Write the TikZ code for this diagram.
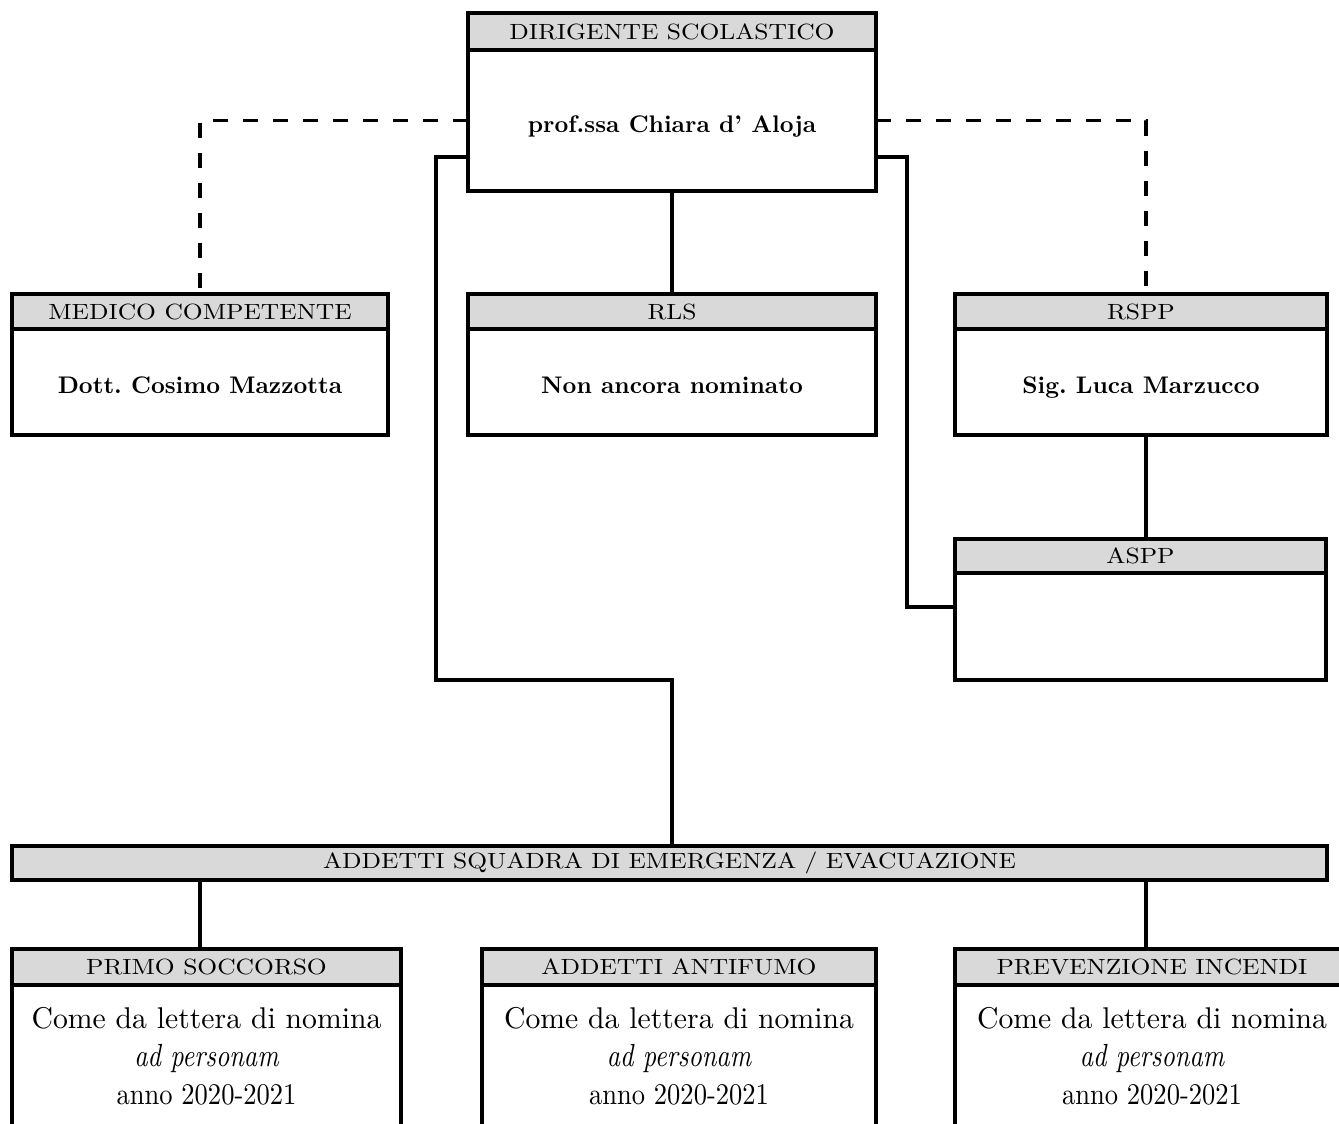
\documentclass[tikz,border=0pt]{standalone}
\usepackage{fontspec}
\setmainfont{lmroman10-regular}[Extension=.otf, BoldFont=lmroman10-bold, ItalicFont=lmroman10-italic]
\newfontfamily\hdrfont{lmroman10-regular}[Extension=.otf, FakeStretch=1.16]
\newfontfamily\namefont{lmroman10-bold}[Extension=.otf, FakeStretch=1.0]
\newfontfamily\comefont{lmroman10-regular}[Extension=.otf, FakeStretch=0.99]
\newfontfamily\annofont{lmroman10-regular}[Extension=.otf, FakeStretch=0.885]
\newfontfamily\adfont{lmroman10-italic}[Extension=.otf, FakeStretch=0.815]
\usetikzlibrary{calc}
\definecolor{hdrgray}{HTML}{D9D9D9}
\frenchspacing
\newcommand{\nominatext}{{\comefont Come da lettera di nomina}\\{\adfont\fontsize{32}{38}\selectfont ad personam}\\{\annofont anno 2020-2021}}
\begin{document}
\begin{tikzpicture}[x=1pt,y=-1pt,
  box/.style={draw, line width=4pt, inner sep=0pt, outer sep=0pt, anchor=north west},
  hdr/.style={box, fill=hdrgray, font=\hdrfont\fontsize{22}{26}\selectfont},
  bodyb/.style={box, fill=white, text height=23pt, text depth=0pt, font=\namefont\fontsize{24}{28}\selectfont},
  bodyo/.style={box, fill=white},
  btext/.style={inner sep=0pt, outer sep=0pt, anchor=north, align=center, font=\fontsize{30}{38}\selectfont},
  conn/.style={line width=3.5pt},
  dconn/.style={line width=3.5pt, dash pattern=on 15pt off 15pt}]
\useasboundingbox (0,0) rectangle (1339,1124);
\clip (0,0) rectangle (1339,1124);
\fill[white] (0,0) rectangle (1339,1124);

% helper coordinates
\coordinate (ly) at (0,157);
\coordinate (ry) at (0,120.5);
\coordinate (rx) at (1146,0);
\coordinate (mx) at (200,0);
\coordinate (lx) at (436,680);
\coordinate (rx2) at (907,607);
\coordinate (ty) at (0,1007);

% DIRIGENTE
\node[hdr, minimum width=408pt, minimum height=37pt] (dirH) at (468,13) {DIRIGENTE SCOLASTICO};
\node[bodyb, minimum width=408pt, minimum height=141pt] (dirB) at (dirH.south west) {prof.ssa Chiara d’ Aloja};

% MEDICO
\node[hdr, minimum width=376pt, minimum height=35pt] (medH) at (12,294) {MEDICO COMPETENTE};
\node[bodyb, minimum width=376pt, minimum height=106pt] (medB) at (medH.south west) {Dott. Cosimo Mazzotta};

% RLS
\node[hdr, minimum width=408pt, minimum height=35pt] (rlsH) at (468,294) {RLS};
\node[bodyb, minimum width=408pt, minimum height=106pt] (rlsB) at (rlsH.south west) {Non ancora nominato};

% RSPP
\node[hdr, minimum width=372pt, minimum height=35pt] (rsppH) at (955,294) {RSPP};
\node[bodyb, minimum width=372pt, minimum height=106pt] (rsppB) at (rsppH.south west) {Sig. Luca Marzucco};

% ASPP
\node[hdr, minimum width=371pt, minimum height=34pt] (asppH) at (955,539) {ASPP};
\node[bodyb, minimum width=371pt, minimum height=107pt] (asppB) at (asppH.south west) {};

% ADDETTI bar
\node[hdr, minimum width=1315pt, minimum height=34pt] (barH) at (12,846) {ADDETTI SQUADRA DI EMERGENZA / EVACUAZIONE};

% bottom boxes (their lower edge lies below the picture)
\node[hdr, minimum width=389pt, minimum height=36pt] (primoH) at (12,949) {PRIMO SOCCORSO};
\node[bodyo, minimum width=389pt, minimum height=200pt] (primoB) at (primoH.south west) {};
\node[btext] (primoT) at (primoB.north |- ty) {\nominatext};

\node[hdr, minimum width=394pt, minimum height=36pt] (antiH) at (482,949) {ADDETTI ANTIFUMO};
\node[bodyo, minimum width=394pt, minimum height=200pt] (antiB) at (antiH.south west) {};
\node[btext] (antiT) at (antiB.north |- ty) {\nominatext};

\node[hdr, minimum width=394pt, minimum height=36pt] (prevH) at (955,949) {PREVENZIONE INCENDI};
\node[bodyo, minimum width=394pt, minimum height=200pt] (prevB) at (prevH.south west) {};
\node[btext] (prevT) at (prevB.north |- ty) {\nominatext};

% dashed connectors
\draw[dconn] (dirB.west |- ry) -| (medH.north -| mx);
\draw[dconn] (dirB.east |- ry) -| (rsppH.north -| rx);

% solid connectors
\draw[conn] (dirB.west |- ly) -| (lx) -| (barH.north -| dirB.south);
\draw[conn] (dirB.east |- ly) -| (rx2) -- (rx2 -| asppB.west);
\draw[conn] (dirB.south) -- (rlsH.north);
\draw[conn] (rsppB.south -| rx) -- (asppH.north -| rx);
\draw[conn] (barH.south -| mx) -- (primoH.north -| mx);
\draw[conn] (barH.south -| rx) -- (prevH.north -| rx);
\end{tikzpicture}
\end{document}
